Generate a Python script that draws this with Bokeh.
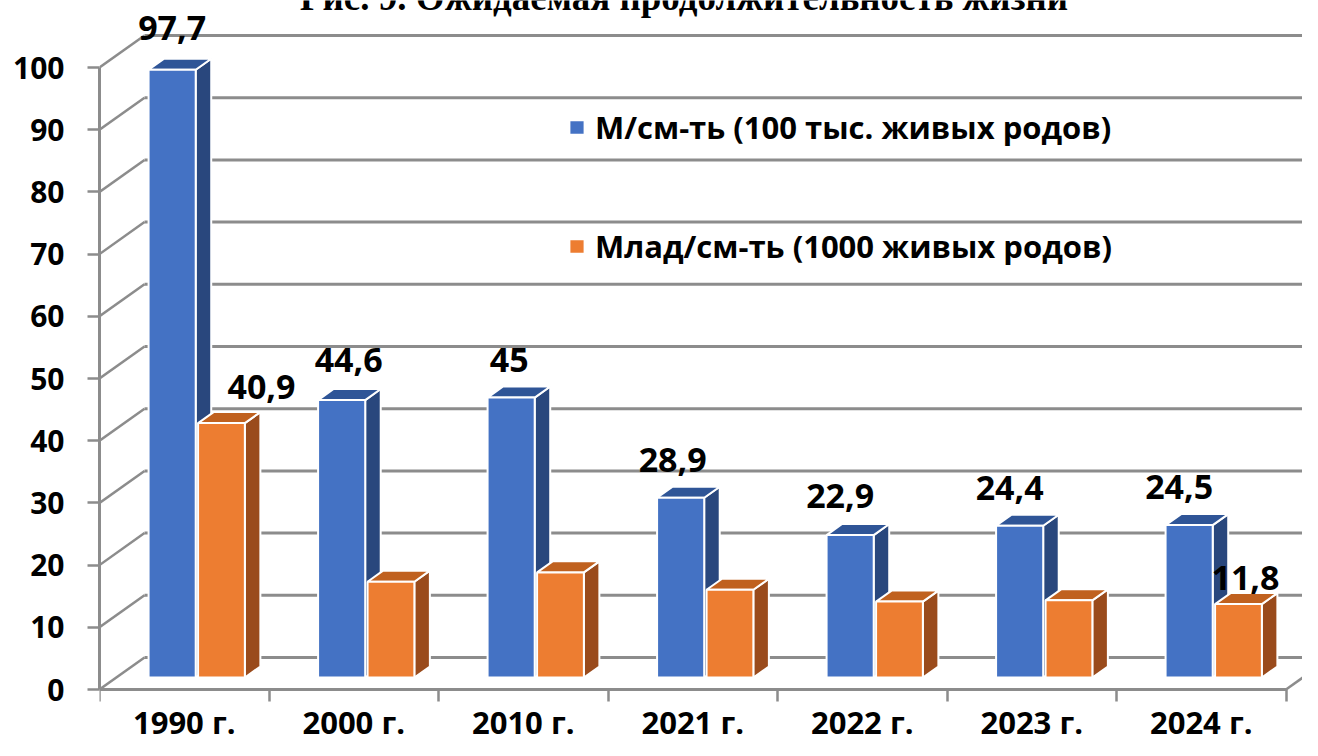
from bokeh.plotting import figure
from bokeh.models import Range1d, FixedTicker, CustomJSTickFormatter, Legend, LegendItem
from bokeh.core.properties import value
from bokeh.embed import file_html
from bokeh.resources import INLINE

# ---------------- data ----------------
TITLE = "Рис. 9. Ожидаемая продолжительность жизни"
CATEGORIES = ["1990 г.", "2000 г.", "2010 г.", "2021 г.", "2022 г.", "2023 г.", "2024 г."]
SERIES_NAMES = ["М/см-ть (100 тыс. живых родов)", "Млад/см-ть (1000 живых родов)"]
MATERNAL = [97.7, 44.6, 45, 28.9, 22.9, 24.4, 24.5]
INFANT = [40.9, 15.4, 16.9, 14.1, 12.2, 12.4, 11.8]
INFANT_LABELLED = [True, False, False, False, False, False, True]
Y_TICKS = list(range(0, 101, 10))

# ---------------- styles / geometry ----------------
W, H = 1302, 740
BORDER_L = 99              # front vertical axis (px)
ZERO_PX = 689              # front zero line (px from top)
CW = 169.5                 # px per category
PPU = 6.22                 # px per value unit
X_END = (W - BORDER_L) / CW
Y_START = -(H - ZERO_PX) / PPU
Y_END = ZERO_PX / PPU
WALL_DX = 45 / CW          # depth of the 3D box, category units
WALL_DY = 32 / PPU         # depth of the 3D box, value units
F0, F1 = 0.375, 0.72       # bar depth slice
BAR_SPANS = [(0.19, 0.468), (0.482, 0.758)]
GRID = "#8c8c8c"
BLUE = ("#4472C4", "#2F5597", "#29477D")     # front, top, side
ORANGE = ("#ED7D31", "#C0611F", "#9A4B1C")
FONT = "Open Sans"
TEXT_SHIFT = 12            # px correction of the rendered baseline
BLUE_NUDGE = [(0, 18.5), (7, 17), (-2, 15), (-8, 15), (-10, 16), (-10, 15), (-10, 15)]
ORANGE_NUDGE = [(40, 13), None, None, None, None, None, (7, 3)]

p = figure(width=W, height=H, x_range=Range1d(0, X_END), y_range=Range1d(Y_START, Y_END),
           output_backend="svg", toolbar_location=None, title=None,
           min_border_left=BORDER_L, min_border_right=0, min_border_top=0,
           min_border_bottom=0)
p.outline_line_color = None
p.xgrid.visible = False
p.ygrid.visible = False
p.background_fill_color = "white"
p.border_fill_color = "white"

# ---- walls: back-wall gridlines, side-wall diagonals, right floor edge ----
gx0 = [WALL_DX] * len(Y_TICKS)
gy = [t + WALL_DY for t in Y_TICKS]
p.segment(x0=gx0, y0=gy, x1=[X_END + 1] * len(Y_TICKS), y1=gy, line_color=GRID, line_width=3)
p.segment(x0=[0] * len(Y_TICKS), y0=Y_TICKS, x1=gx0, y1=gy, line_color=GRID, line_width=2.5)
n = len(CATEGORIES)
p.segment(x0=[n], y0=[0], x1=[n + WALL_DX], y1=[WALL_DY], line_color=GRID, line_width=2.5)


def faces(vals, span):
    ox, oy = F0 * WALL_DX, F0 * WALL_DY
    ddx, ddy = (F1 - F0) * WALL_DX, (F1 - F0) * WALL_DY
    out = {k: [] for k in ("fx", "fy", "tx", "ty", "sx", "sy")}
    for i, v in enumerate(vals):
        x0, x1 = i + ox + span[0], i + ox + span[1]
        y0, y1 = oy, oy + v
        out["fx"].append([x0, x1, x1, x0]); out["fy"].append([y0, y0, y1, y1])
        out["tx"].append([x0, x1, x1 + ddx, x0 + ddx]); out["ty"].append([y1, y1, y1 + ddy, y1 + ddy])
        out["sx"].append([x1, x1 + ddx, x1 + ddx, x1]); out["sy"].append([y0, y0 + ddy, y1 + ddy, y1])
    return out


renderers = []
for vals, span, cols in ((MATERNAL, BAR_SPANS[0], BLUE), (INFANT, BAR_SPANS[1], ORANGE)):
    f = faces(vals, span)
    p.patches(f["sx"], f["sy"], fill_color=cols[2], line_color="white", line_width=2)
    p.patches(f["tx"], f["ty"], fill_color=cols[1], line_color="white", line_width=2)
    r = p.patches(f["fx"], f["fy"], fill_color=cols[0], line_color="white", line_width=2)
    renderers.append(r)

# ---- value labels ----
def fmt(v):
    return f"{v:g}".replace(".", ",")

lx, ly, lt = [], [], []
ox, oy = F0 * WALL_DX, F0 * WALL_DY
ddy = (F1 - F0) * WALL_DY
for vals, span, nudges, shown in ((MATERNAL, BAR_SPANS[0], BLUE_NUDGE, [True] * n),
                                  (INFANT, BAR_SPANS[1], ORANGE_NUDGE, INFANT_LABELLED)):
    for i, v in enumerate(vals):
        if not shown[i]:
            continue
        dx, dy = nudges[i]
        lx.append(i + ox + (span[0] + span[1]) / 2 + dx / CW)
        ly.append(oy + v + ddy + (dy + TEXT_SHIFT) / PPU)
        lt.append(fmt(v))
p.text(x=lx, y=ly, text=lt, text_font=value(FONT), text_font_style="bold",
       text_font_size="34px", text_color="black", text_align="center",
       text_baseline="alphabetic")

# ---- clipped title at top (only its lower part is visible, as in the source) ----
p.text(x=[(683.5 - BORDER_L) / CW], y=[Y_END + 3 / PPU], text=[TITLE],
       text_font=value("Liberation Serif"), text_font_style="bold", text_font_size="37px",
       text_color="black", text_align="center", text_baseline="alphabetic")

# ---- axes ----
yax = p.yaxis[0]
yax.ticker = FixedTicker(ticks=Y_TICKS)
yax.bounds = (0, 100)
yax.axis_line_color = GRID
yax.axis_line_width = 3
yax.major_tick_out = 12
yax.major_tick_in = 0
yax.major_tick_line_color = GRID
yax.major_tick_line_width = 2.5
yax.minor_tick_line_color = None
yax.major_label_standoff = 23
yax.major_label_text_font = FONT
yax.major_label_text_font_style = "bold"
yax.major_label_text_font_size = "30px"
yax.major_label_text_color = "black"

xax = p.xaxis[0]
xax.fixed_location = 0
xax.ticker = FixedTicker(ticks=[i + 0.5 for i in range(n)], minor_ticks=list(range(n + 1)))
xax.formatter = CustomJSTickFormatter(args=dict(labels=CATEGORIES),
                                      code="return labels[Math.floor(tick)] || '';")
xax.bounds = (0, n)
xax.axis_line_color = GRID
xax.axis_line_width = 3
xax.major_tick_line_color = None
xax.major_tick_out = 0
xax.major_tick_in = 0
xax.minor_tick_out = 12
xax.minor_tick_in = 0
xax.minor_tick_line_color = GRID
xax.minor_tick_line_width = 2.5
xax.major_label_standoff = -1
xax.major_label_text_font = FONT
xax.major_label_text_font_style = "bold"
xax.major_label_text_font_size = "31px"
xax.major_label_text_color = "black"

# ---- legend (two single-item legends) ----
for r, name, yc in zip(renderers, SERIES_NAMES, (130, 249)):
    leg = Legend(items=[LegendItem(label=name, renderers=[r])],
                 location=(567 - BORDER_L, H - yc - 18),
                 glyph_width=19, glyph_height=18, label_standoff=9,
                 padding=0, margin=0, border_line_color=None, background_fill_alpha=0,
                 label_text_font=FONT, label_text_font_style="bold",
                 label_text_font_size="31px", label_text_color="black")
    p.add_layout(leg)

with open("out.html", "w", encoding="utf-8") as fh:
    fh.write(file_html(p, INLINE))
